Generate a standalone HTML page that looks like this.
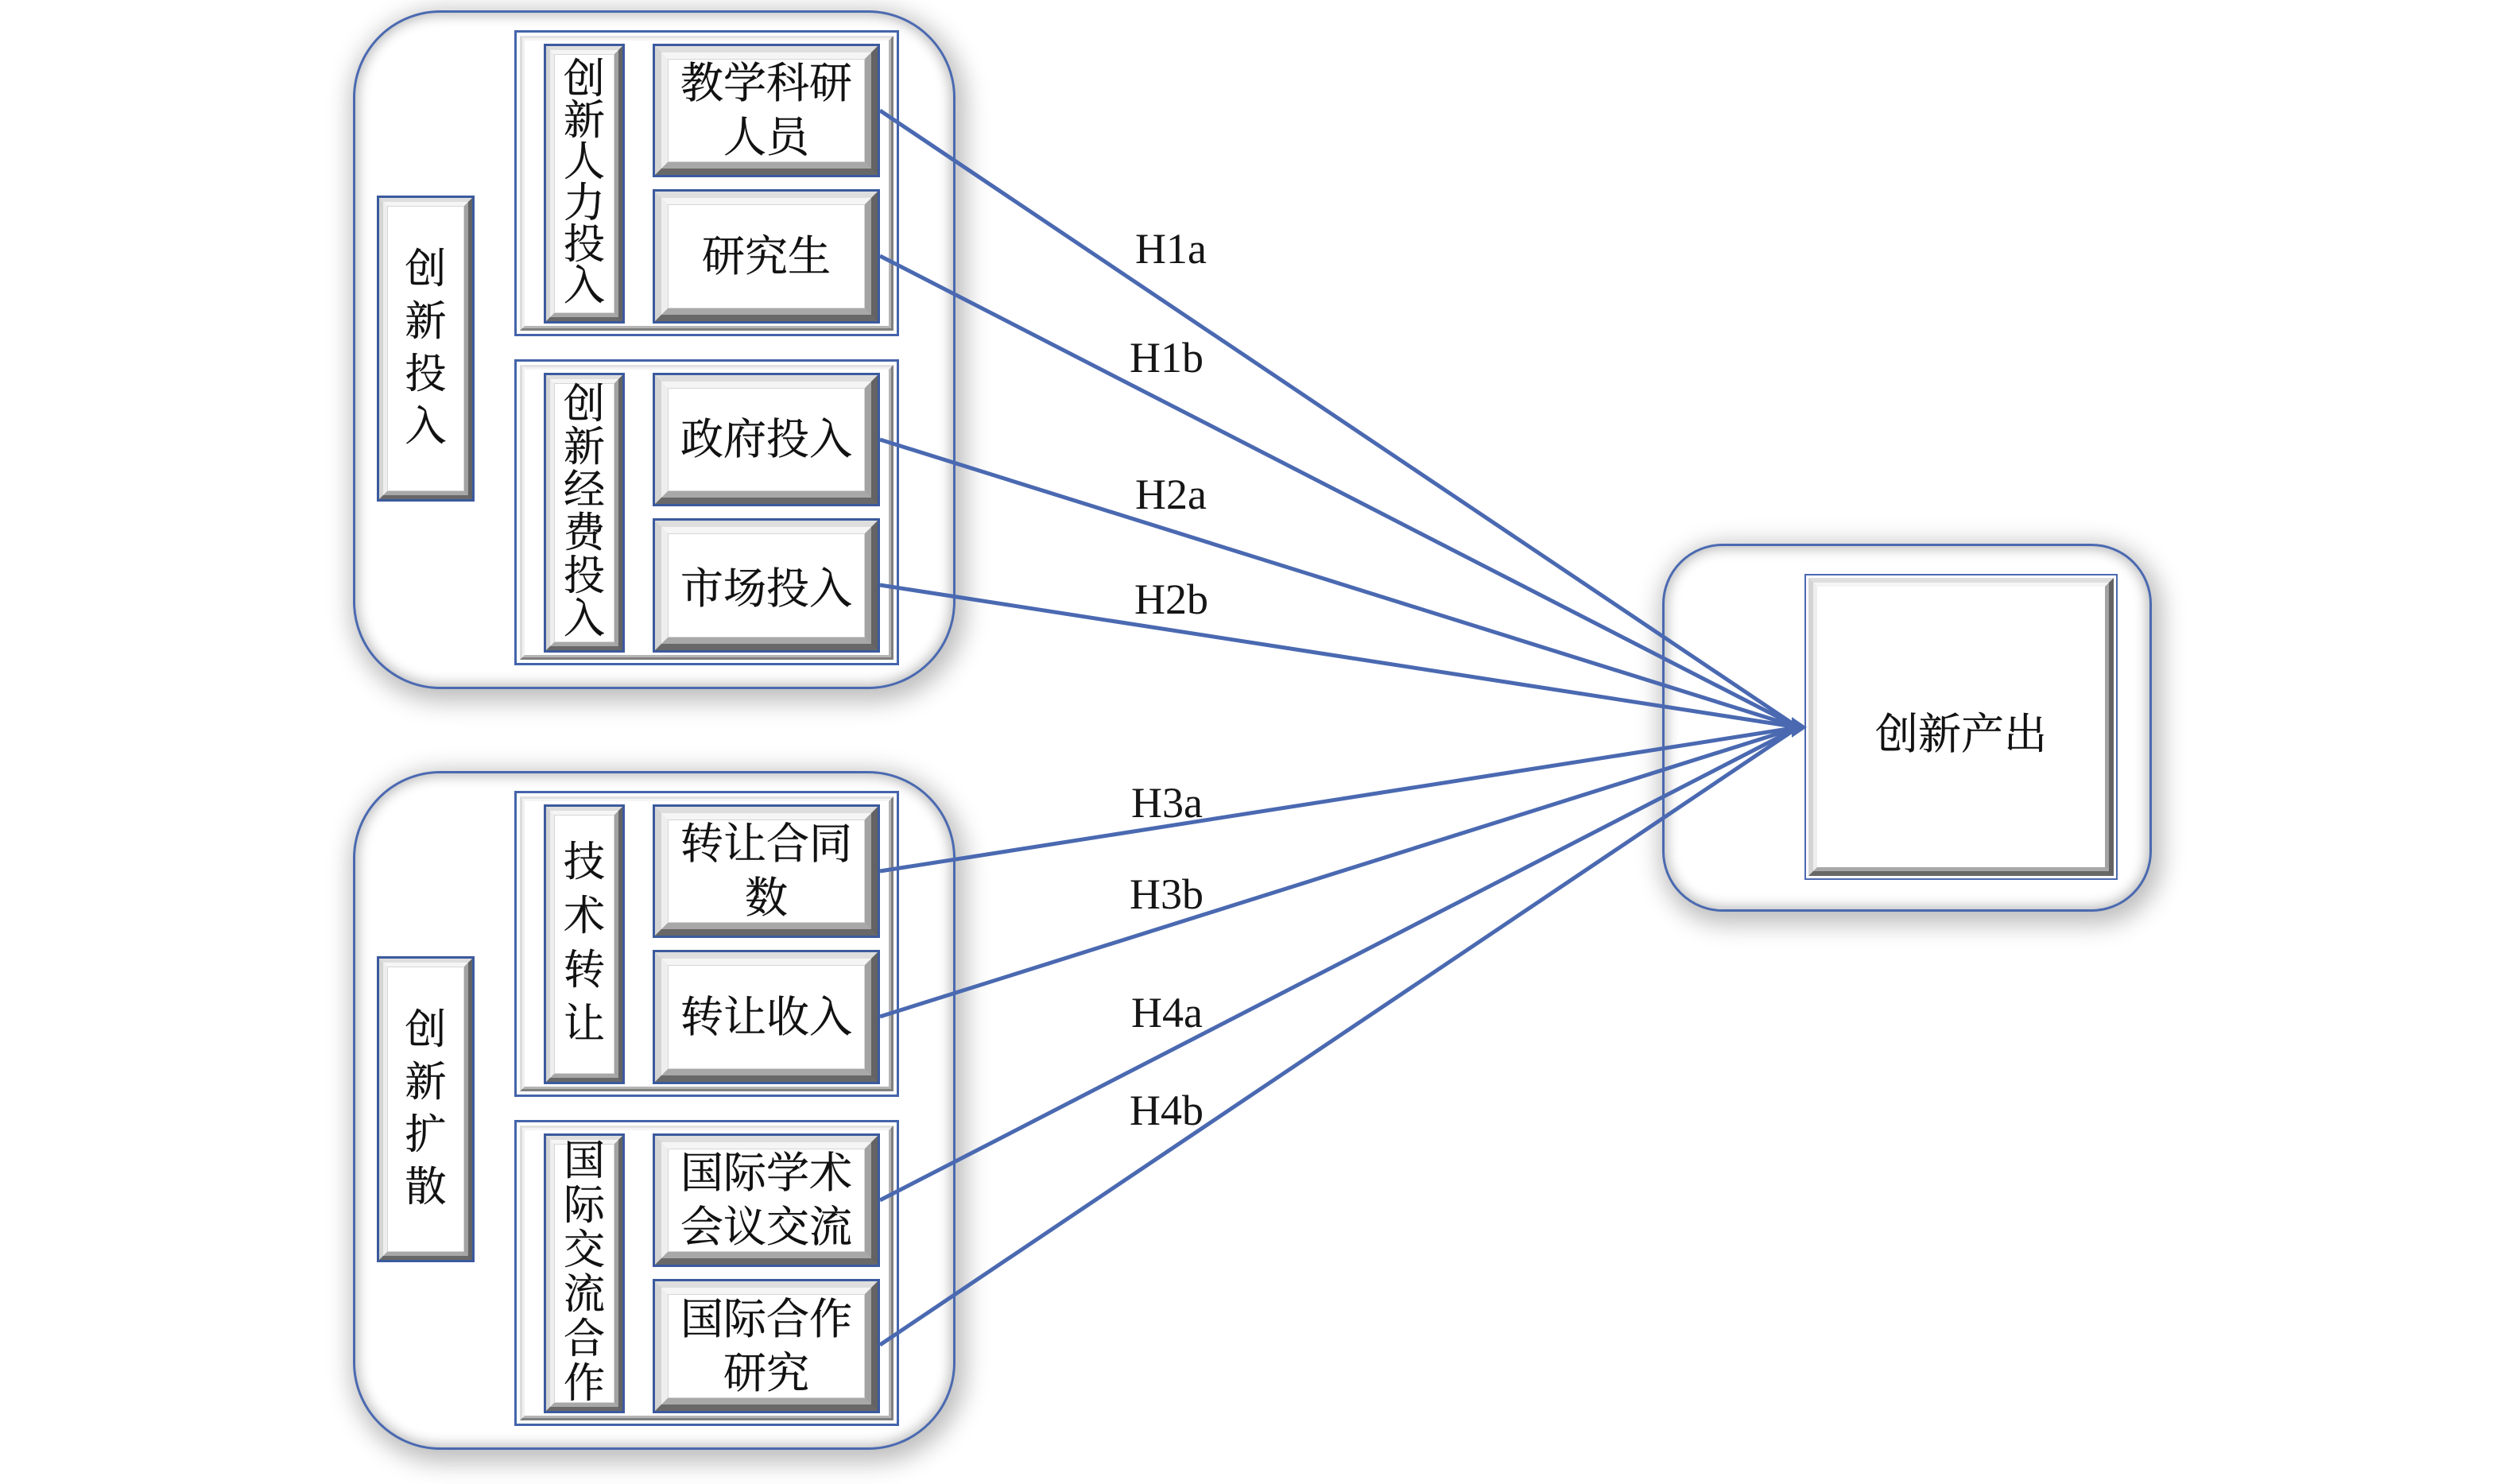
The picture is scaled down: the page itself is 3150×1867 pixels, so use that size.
<!DOCTYPE html>
<html>
<head>
<meta charset="utf-8">
<style>
html,body{margin:0;padding:0;background:#fff;}
body{width:3150px;height:1867px;position:relative;overflow:hidden;font-family:"Liberation Serif","Noto Serif CJK SC",serif;color:#111;}
.outer{position:absolute;box-sizing:border-box;border:3px solid #4a69b0;background:#fff;
  box-shadow:5px 8px 30px 8px rgba(0,0,0,0.26), inset 0 0 16px 3px rgba(0,0,0,0.28);}
.grp{position:absolute;box-sizing:border-box;border:3px solid #4464aa;background:#fff;}
.grp>.f{position:absolute;left:4px;top:4px;right:4px;bottom:4px;border-style:solid;border-width:3px;border-color:#e2e2e2 #808080 #808080 #dcdcdc;}
.grp>.f>.g{position:absolute;left:0;top:0;right:0;bottom:0;border-style:solid;border-width:3px;border-color:#f4f4f4 #b5b5b5 #b5b5b5 #f0f0f0;}
.bx{position:absolute;box-sizing:border-box;border:3px solid #3b5a9e;background:#fff;}
.bx>.b1{position:absolute;left:0;top:0;right:0;bottom:0;border-style:solid;border-color:#dedede #636363 #686868 #d4d4d4;}
.bx>.b1>.b2{position:absolute;left:0;top:0;right:0;bottom:0;border-style:solid;border-color:#f5f5f5 #a2a2a2 #a8a8a8 #eeeeee;}
.bx>.b1>.b2>.b3{position:absolute;left:0;top:0;right:0;bottom:0;border:1px solid #d6d6d6;}
.big>.b1{border-width:8px;}
.big>.b1>.b2{border-width:8px;}
.sm>.b1{border-width:5px;}
.sm>.b1>.b2{border-width:5px;}
.t{position:absolute;left:0;top:0;right:0;bottom:0;display:flex;align-items:center;justify-content:center;text-align:center;-webkit-text-stroke:0.4px #111;}
.h{font-size:54px;line-height:68px;}
.v{font-size:52px;}
</style>
</head>
<body>

<div class="outer" style="left:444px;top:13px;width:758px;height:854px;border-radius:110px;"></div>
<div class="outer" style="left:444px;top:970px;width:758px;height:854px;border-radius:110px;"></div>
<div class="outer" style="left:2091px;top:684px;width:616px;height:463px;border-radius:76px;"></div>

<div class="bx sm" style="left:474px;top:246px;width:123px;height:385px;"><div class="b1"><div class="b2"><div class="b3"></div></div></div>
  <div class="t v" style="line-height:66px;">创<br>新<br>投<br>入</div></div>
<div class="bx sm" style="left:474px;top:1203px;width:123px;height:385px;"><div class="b1"><div class="b2"><div class="b3"></div></div></div>
  <div class="t v" style="line-height:66px;">创<br>新<br>扩<br>散</div></div>

<div class="grp" style="left:647px;top:38px;width:484px;height:385px;"><div class="f"><div class="g"></div></div></div>
<div class="grp" style="left:647px;top:452px;width:484px;height:385px;"><div class="f"><div class="g"></div></div></div>
<div class="grp" style="left:647px;top:995px;width:484px;height:385px;"><div class="f"><div class="g"></div></div></div>
<div class="grp" style="left:647px;top:1409px;width:484px;height:385px;"><div class="f"><div class="g"></div></div></div>

<div class="bx sm" style="left:684px;top:55px;width:102px;height:352px;"><div class="b1"><div class="b2"><div class="b3"></div></div></div>
  <div class="t v" style="line-height:52px;">创<br>新<br>人<br>力<br>投<br>入</div></div>
<div class="bx sm" style="left:684px;top:469px;width:102px;height:352px;"><div class="b1"><div class="b2"><div class="b3"></div></div></div>
  <div class="t v" style="line-height:54px;">创<br>新<br>经<br>费<br>投<br>入</div></div>
<div class="bx sm" style="left:684px;top:1012px;width:102px;height:352px;"><div class="b1"><div class="b2"><div class="b3"></div></div></div>
  <div class="t v" style="line-height:68px;">技<br>术<br>转<br>让</div></div>
<div class="bx sm" style="left:684px;top:1426px;width:102px;height:352px;"><div class="b1"><div class="b2"><div class="b3"></div></div></div>
  <div class="t v" style="line-height:56px;">国<br>际<br>交<br>流<br>合<br>作</div></div>

<div class="bx big" style="left:821px;top:55px;width:286px;height:168px;"><div class="b1"><div class="b2"><div class="b3"></div></div></div>
  <div class="t h">教学科研<br>人员</div></div>
<div class="bx big" style="left:821px;top:238px;width:286px;height:169px;"><div class="b1"><div class="b2"><div class="b3"></div></div></div>
  <div class="t h">研究生</div></div>
<div class="bx big" style="left:821px;top:469px;width:286px;height:168px;"><div class="b1"><div class="b2"><div class="b3"></div></div></div>
  <div class="t h">政府投入</div></div>
<div class="bx big" style="left:821px;top:652px;width:286px;height:169px;"><div class="b1"><div class="b2"><div class="b3"></div></div></div>
  <div class="t h" style="padding-top:8px;box-sizing:border-box;">市场投入</div></div>
<div class="bx big" style="left:821px;top:1012px;width:286px;height:168px;"><div class="b1"><div class="b2"><div class="b3"></div></div></div>
  <div class="t h">转让合同<br>数</div></div>
<div class="bx big" style="left:821px;top:1195px;width:286px;height:169px;"><div class="b1"><div class="b2"><div class="b3"></div></div></div>
  <div class="t h">转让收入</div></div>
<div class="bx big" style="left:821px;top:1426px;width:286px;height:168px;"><div class="b1"><div class="b2"><div class="b3"></div></div></div>
  <div class="t h">国际学术<br>会议交流</div></div>
<div class="bx big" style="left:821px;top:1609px;width:286px;height:169px;"><div class="b1"><div class="b2"><div class="b3"></div></div></div>
  <div class="t h">国际合作<br>研究</div></div>

<div class="bx" style="left:2270px;top:722px;width:394px;height:385px;border-width:2px;border-color:#4a69b0;">
  <div class="b1" style="left:3px;top:3px;right:3px;bottom:3px;border-width:6px;"><div class="b2" style="border-width:5px;"></div></div>
  <div class="t" style="font-size:54px;line-height:60px;padding-top:18px;box-sizing:border-box;">创新产出</div></div>

<svg width="3150" height="1867" viewBox="0 0 3150 1867" style="position:absolute;left:0;top:0;" xmlns="http://www.w3.org/2000/svg">
  <g stroke="#4a69b1" stroke-width="5" fill="none" stroke-linecap="butt">
    <line x1="1107" y1="139" x2="2262" y2="915"/>
    <line x1="1107" y1="322" x2="2262" y2="915"/>
    <line x1="1107" y1="553" x2="2262" y2="915"/>
    <line x1="1107" y1="736" x2="2262" y2="915"/>
    <line x1="1107" y1="1096" x2="2262" y2="915"/>
    <line x1="1107" y1="1279" x2="2262" y2="915"/>
    <line x1="1107" y1="1510" x2="2262" y2="915"/>
    <line x1="1107" y1="1692" x2="2262" y2="915"/>
  </g>
  <polygon points="2273,915 2254,902 2254,928" fill="#4a69b1"/>
  <g font-family="Liberation Serif, serif" font-size="54" fill="#161616">
    <text x="1428" y="331">H1a</text>
    <text x="1421" y="468">H1b</text>
    <text x="1428" y="640">H2a</text>
    <text x="1427" y="772">H2b</text>
    <text x="1423" y="1028">H3a</text>
    <text x="1421" y="1143">H3b</text>
    <text x="1423" y="1292">H4a</text>
    <text x="1421" y="1415">H4b</text>
  </g>
</svg>

</body>
</html>
